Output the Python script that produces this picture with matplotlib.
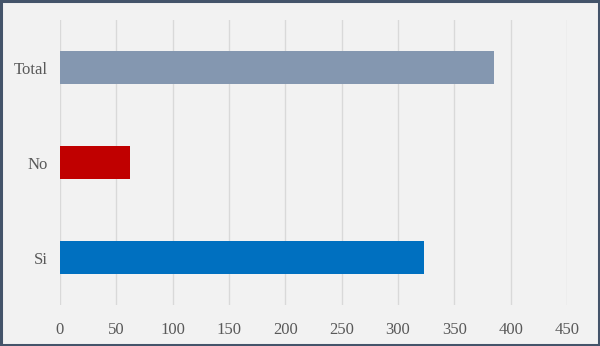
import matplotlib.pyplot as plt
from matplotlib.patches import Rectangle

# datos
categorias = ['Si', 'No', 'Total']
valores = [323, 62, 385]
colores = ['#0070C0', '#C00000', '#8497B0']
ticks_x = [0, 50, 100, 150, 200, 250, 300, 350, 400, 450]

plt.rcParams['font.family'] = ['Liberation Serif', 'DejaVu Serif']

fig = plt.figure(figsize=(6, 3.46), dpi=100, facecolor='#F2F2F2')
ax = fig.add_axes([0.1, 0.1185, 0.845, 0.8235])
ax.set_facecolor('#F2F2F2')

ax.barh(categorias, valores, height=0.35, color=colores, zorder=3)

ax.set_xlim(0, 450)
ax.set_ylim(-0.5, 2.5)
ax.set_xticks(ticks_x)
ax.grid(axis='x', color='#D9D9D9', linewidth=1, zorder=0)
for s in ax.spines.values():
    s.set_visible(False)
ax.tick_params(axis='both', length=0, labelsize=12, colors='#595959')
ax.tick_params(axis='y', pad=9)
ax.tick_params(axis='x', pad=12)

# borde exterior
fig.patches.append(Rectangle((0.002, 0.003), 0.996, 0.994, transform=fig.transFigure,
                             fill=False, edgecolor='#44546A', linewidth=2.2))

fig.savefig('out.png', dpi=100, facecolor=fig.get_facecolor())
